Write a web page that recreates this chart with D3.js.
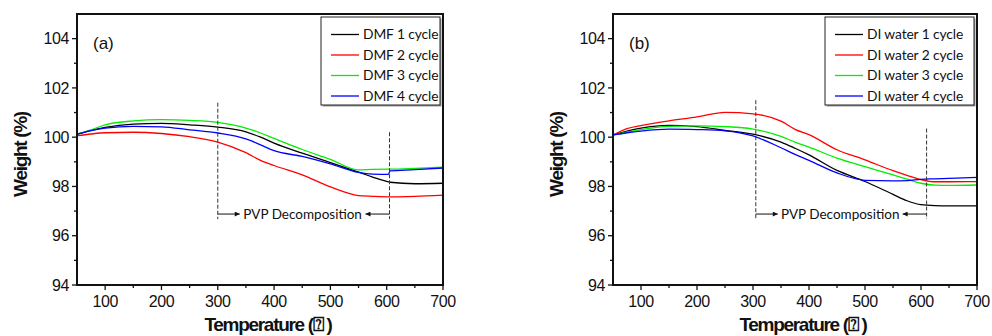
<!DOCTYPE html>
<html>
<head>
<meta charset="utf-8">
<script src="https://cdn.jsdelivr.net/npm/d3@7"></script>
<style>
  body { margin: 0; background: #fff; }
  svg { display: block; }
  .tick-label { font-family: "Liberation Sans", Arial, sans-serif; font-size: 16px; fill: #111; letter-spacing: -0.4px; }
  .axis-title { font-family: "Liberation Sans", Arial, sans-serif; font-size: 19px; font-weight: bold; fill: #111; letter-spacing: -1.3px; }
  .legend-text, .note { font-family: Lato, "Open Sans", sans-serif; fill: #111; }
</style>
</head>
<body>
<div id="chart"></div>
<script>
// Panel (a): DMF washing cycles
const tempsA = [50, 75, 100, 150, 200, 250, 300, 350, 375, 400, 450, 500, 550, 575, 603, 606, 650, 700];
const dmf1 = [100.12, 100.28, 100.40, 100.53, 100.56, 100.50, 100.41, 100.22, 100.01, 99.76, 99.35, 98.97, 98.58, 98.38, 98.19, 98.17, 98.11, 98.13];
const dmf2 = [100.06, 100.13, 100.18, 100.20, 100.15, 100.02, 99.80, 99.37, 99.07, 98.85, 98.47, 97.98, 97.63, 97.60, 97.58, 97.58, 97.60, 97.65];
const dmf3 = [100.12, 100.30, 100.50, 100.66, 100.71, 100.68, 100.60, 100.37, 100.18, 99.95, 99.50, 99.10, 98.67, 98.69, 98.70, 98.70, 98.73, 98.78];
const dmf4 = [100.12, 100.27, 100.37, 100.44, 100.42, 100.30, 100.17, 99.93, 99.70, 99.45, 99.22, 98.92, 98.57, 98.50, 98.49, 98.63, 98.68, 98.75];

// Panel (b): DI water washing cycles
const tempsB = [50, 75, 100, 150, 200, 250, 300, 350, 375, 400, 450, 500, 550, 575, 600, 625, 650, 700];
const di1 = [100.09, 100.25, 100.37, 100.48, 100.43, 100.28, 100.12, 99.80, 99.55, 99.28, 98.65, 98.20, 97.68, 97.42, 97.26, 97.22, 97.21, 97.21];
const di2 = [100.09, 100.35, 100.47, 100.66, 100.82, 101.01, 100.95, 100.65, 100.32, 100.10, 99.49, 99.08, 98.64, 98.45, 98.28, 98.19, 98.19, 98.20];
const di3 = [100.09, 100.20, 100.31, 100.44, 100.46, 100.43, 100.33, 100.03, 99.80, 99.60, 99.15, 98.80, 98.47, 98.30, 98.13, 98.05, 98.04, 98.06];
const di4 = [100.09, 100.18, 100.25, 100.33, 100.31, 100.26, 100.05, 99.57, 99.30, 99.06, 98.55, 98.25, 98.23, 98.24, 98.29, 98.31, 98.33, 98.37];

const colors = ["#000000", "#ff0000", "#00ee00", "#0000ff"];
const xTicks = [100, 200, 300, 400, 500, 600, 700];
const yTicks = [94, 96, 98, 100, 102, 104];

const panels = [
  { left: 77, right: 443, tag: "(a)", temps: tempsA, series: [dmf1, dmf2, dmf3, dmf4],
    names: ["DMF 1 cycle", "DMF 2 cycle", "DMF 3 cycle", "DMF 4 cycle"],
    legendW: 119, startT: 300, endT: 605, startTop: 101.4, endTop: 100.2 },
  { left: 613, right: 977, tag: "(b)", temps: tempsB, series: [di1, di2, di3, di4],
    names: ["DI water 1 cycle", "DI water 2 cycle", "DI water 3 cycle", "DI water 4 cycle"],
    legendW: 149, startT: 305, endT: 610, startTop: 101.5, endTop: 100.35 }
];

const width = 992, height = 336;
const plotTop = 14, plotBottom = 285;

const svg = d3.select("#chart").append("svg")
  .attr("width", width)
  .attr("height", height);

const defs = svg.append("defs");
defs.append("marker")
  .attr("id", "arrow")
  .attr("viewBox", "0 0 10 10")
  .attr("refX", 10).attr("refY", 5)
  .attr("markerWidth", 7).attr("markerHeight", 5)
  .attr("markerUnits", "userSpaceOnUse")
  .attr("orient", "auto")
  .append("path")
  .attr("d", "M0,0 L10,5 L0,10 Z")
  .attr("fill", "#111");

panels.forEach((p) => {
  const x = d3.scaleLinear().domain([50, 700]).range([p.left, p.right]);
  const y = d3.scaleLinear().domain([94, 105]).range([plotBottom, plotTop]);
  const g = svg.append("g");

  // ticks (outside), major + minor
  const tickG = g.append("g").attr("stroke", "#111").attr("stroke-width", 1.3);
  d3.range(150, 700, 100).forEach((t) =>
    tickG.append("line").attr("x1", x(t)).attr("x2", x(t)).attr("y1", plotBottom).attr("y2", plotBottom + 3));
  xTicks.forEach((t) =>
    tickG.append("line").attr("x1", x(t)).attr("x2", x(t)).attr("y1", plotBottom).attr("y2", plotBottom + 5));
  d3.range(95, 105, 2).forEach((v) =>
    tickG.append("line").attr("x1", p.left - 3).attr("x2", p.left).attr("y1", y(v)).attr("y2", y(v)));
  yTicks.forEach((v) =>
    tickG.append("line").attr("x1", p.left - 5).attr("x2", p.left).attr("y1", y(v)).attr("y2", y(v)));

  g.selectAll("text.xl").data(xTicks).enter().append("text")
    .attr("class", "tick-label xl")
    .attr("x", (d) => x(d)).attr("y", plotBottom + 22)
    .attr("text-anchor", "middle")
    .text((d) => d);
  g.selectAll("text.yl").data(yTicks).enter().append("text")
    .attr("class", "tick-label yl")
    .attr("x", p.left - 8).attr("y", (d) => y(d))
    .attr("dy", "0.36em")
    .attr("text-anchor", "end")
    .text((d) => d);

  // curves
  const line = d3.line().x((d) => x(d[0])).y((d) => y(d[1])).curve(d3.curveMonotoneX);
  p.series.forEach((vals, i) => {
    g.append("path")
      .datum(p.temps.map((t, k) => [t, vals[k]]))
      .attr("fill", "none")
      .attr("stroke", colors[i])
      .attr("stroke-width", 1.3)
      .attr("d", line);
  });

  // PVP decomposition markers
  const arrowY = y(96.88);
  const dash = g.append("g").attr("stroke", "#333").attr("stroke-width", 1).attr("stroke-dasharray", "4,2");
  dash.append("line").attr("x1", x(p.startT)).attr("x2", x(p.startT))
    .attr("y1", y(p.startTop)).attr("y2", arrowY + 5);
  dash.append("line").attr("x1", x(p.endT)).attr("x2", x(p.endT))
    .attr("y1", y(p.endTop)).attr("y2", arrowY + 5);
  g.append("line")
    .attr("x1", x(p.startT)).attr("x2", x(p.startT) + 22)
    .attr("y1", arrowY).attr("y2", arrowY)
    .attr("stroke", "#111").attr("stroke-width", 1)
    .attr("marker-end", "url(#arrow)");
  g.append("line")
    .attr("x1", x(p.endT)).attr("x2", x(p.endT) - 24)
    .attr("y1", arrowY).attr("y2", arrowY)
    .attr("stroke", "#111").attr("stroke-width", 1)
    .attr("marker-end", "url(#arrow)");
  g.append("text")
    .attr("class", "note")
    .attr("x", (x(p.startT) + 22 + x(p.endT) - 24) / 2)
    .attr("y", arrowY)
    .attr("dy", "0.36em")
    .attr("text-anchor", "middle")
    .attr("font-size", 13.5)
    .text("PVP Decomposition");

  // frame
  g.append("rect")
    .attr("x", p.left).attr("y", plotTop)
    .attr("width", p.right - p.left).attr("height", plotBottom - plotTop)
    .attr("fill", "none").attr("stroke", "#111").attr("stroke-width", 2);

  // panel tag
  g.append("text")
    .attr("x", p.left + 16).attr("y", 49)
    .attr("font-family", "'Liberation Sans', Arial, sans-serif")
    .attr("font-size", 17).attr("fill", "#111")
    .text(p.tag);

  // legend
  const lx = p.right - 3 - p.legendW, ly = 17, lh = 88;
  g.append("rect").attr("x", lx + 1.5).attr("y", ly + 1.5).attr("width", p.legendW).attr("height", lh)
    .attr("fill", "#999");
  g.append("rect").attr("x", lx).attr("y", ly).attr("width", p.legendW).attr("height", lh)
    .attr("fill", "#fff").attr("stroke", "#222").attr("stroke-width", 1);
  p.names.forEach((name, i) => {
    const yy = ly + 17.5 + i * 20.5;
    g.append("line")
      .attr("x1", lx + 10).attr("x2", lx + 38)
      .attr("y1", yy).attr("y2", yy)
      .attr("stroke", colors[i]).attr("stroke-width", 1.3);
    g.append("text")
      .attr("class", "legend-text")
      .attr("x", lx + 42).attr("y", yy)
      .attr("dy", "0.36em")
      .attr("font-size", 13.8)
      .attr("letter-spacing", -0.1)
      .text(name);
  });

  // axis titles
  g.append("text")
    .attr("class", "axis-title")
    .attr("transform", `translate(${p.left - 50},${(plotTop + plotBottom) / 2 + 5}) rotate(-90)`)
    .attr("text-anchor", "middle")
    .text("Weight (%)");
  g.append("text")
    .attr("class", "axis-title")
    .attr("x", (p.left + p.right) / 2 + 8).attr("y", 331)
    .attr("text-anchor", "middle")
    .text("Temperature (\u2370 )");
});
</script>
</body>
</html>
